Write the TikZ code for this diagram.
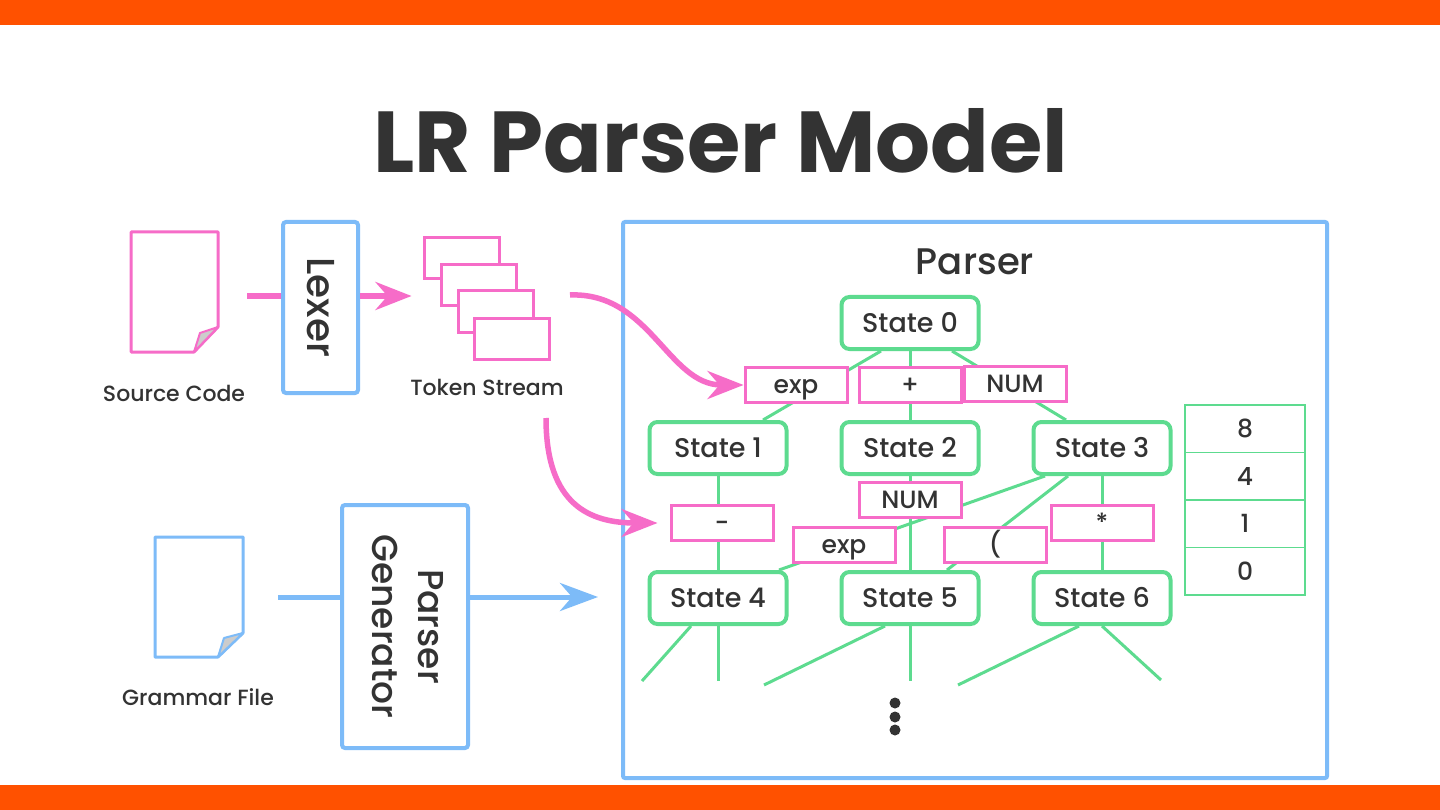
\documentclass[tikz,border=0pt]{standalone}
\usepackage{fontspec}
\setmainfont{Poppins}[UprightFont=* Medium,BoldFont=* Bold]
\usepackage{xcolor}
\usepackage{tikz}
\usetikzlibrary{arrows.meta,positioning,calc}

\definecolor{barorange}{HTML}{FF5100}
\definecolor{tokpink}{HTML}{F66CC8}
\definecolor{stategreen}{HTML}{5DDB8F}
\definecolor{toolblue}{HTML}{7DBBF8}
\definecolor{textgray}{HTML}{333333}

\begin{document}
\begin{tikzpicture}[
  x=1pt, y=-1pt,
  statebox/.style={draw=stategreen,line width=4pt,rounded corners=8pt,fill=white,
    minimum width=137pt,minimum height=52pt,text=textgray,font=\fontsize{27}{30}\selectfont},
  tokbox/.style={draw=tokpink,line width=3pt,fill=white,text height=17pt,text depth=0pt,
    minimum width=102pt,minimum height=35pt,text=textgray,font=\fontsize{25}{30}\selectfont},
  tokcard/.style={draw=tokpink,line width=3pt,fill=white,minimum width=75pt,minimum height=41pt},
  toolbox/.style={draw=toolblue,line width=4pt,rounded corners=3pt,fill=white,
    text=textgray,font=\fontsize{36}{46}\selectfont},
  cell/.style={draw=stategreen,line width=1.5pt,minimum width=120pt,minimum height=47.5pt,
    outer sep=0pt,text=textgray,font=\fontsize{25}{30}\selectfont},
  caption/.style={text=textgray,font=\fontsize{22}{26}\selectfont},
  edge/.style={draw=stategreen,line width=3pt},
  pinkarr/.style={draw=tokpink,line width=5.5pt,-{Stealth[length=36pt,width=28pt,inset=12pt]}},
  bluearr/.style={draw=toolblue,line width=5pt,-{Stealth[length=38pt,width=28pt,inset=12pt]}}
]
\useasboundingbox (0,0) rectangle (1440,810);
\fill[white] (0,0) rectangle (1440,810);
\fill[barorange] (0,0) rectangle (1440,25);
\fill[barorange] (0,785) rectangle (1440,810);

\node[text=textgray,font=\fontsize{86.5}{90}\selectfont\bfseries] (title) at (721,141) {LR Parser Model};

% source side
\draw[draw=tokpink,line width=3pt,line join=round] (131,232) -- (218,232) -- (218,327) -- (194,352) -- (131,352) -- cycle;
\draw[draw=tokpink,line width=2pt,fill=black!20,line join=round] (218,327) -- (200,333) -- (194,352) -- cycle;
\node[caption] (srclbl) at (174,393) {Source Code};

\node[toolbox,minimum width=75pt,minimum height=171pt,font=\fontsize{39}{46}\selectfont] (lexer) at (320.5,307.5) {\rotatebox{-90}{Lexer}};

\node[tokcard] (tok1) at (461.5,258.5) {};
\node[tokcard] (tok2) at (478.5,285) {};
\node[tokcard] (tok3) at (495.5,311.5) {};
\node[tokcard] (tok4) at (511.5,338.5) {};
\node[caption] (toklbl) at (487,387) {Token Stream};

\coordinate (srcout) at (247,296);
\draw[draw=tokpink,line width=5.5pt] (srcout) -- (srcout -| lexer.west);
\draw[pinkarr,shorten >=11pt] (srcout -| lexer.east) -- (srcout -| tok1.west);

% grammar side
\draw[draw=toolblue,line width=3pt,line join=round] (155,537) -- (243,537) -- (243,633) -- (218,657) -- (155,657) -- cycle;
\draw[draw=toolblue,line width=2pt,fill=black!20,line join=round] (243,633) -- (224,638) -- (218,657) -- cycle;
\node[caption] (gramlbl) at (198,697) {Grammar File};

\node[toolbox,minimum width=126pt,minimum height=243pt] (pgen) at (405,626.5)
  {\rotatebox{-90}{\begin{tabular}{@{}c@{}}Parser\\Generator\end{tabular}}};

% parser
\node[draw=toolblue,line width=4pt,rounded corners=2pt,minimum width=704pt,minimum height=556pt] (parser) at (975,500) {};
\node[text=textgray,font=\fontsize{37}{40}\selectfont] (parserlbl) at (975,262) {Parser};

\coordinate (gramout) at (278,597);
\draw[draw=toolblue,line width=5pt] (gramout) -- (gramout -| pgen.west);
\draw[bluearr,shorten >=23pt] (gramout -| pgen.east) -- (gramout -| parser.west);

\node[statebox] (s0) at (910,323) {State 0};
\node[statebox] (s1) at (718,448) {State 1};
\node[statebox] (s2) at (910,448) {State 2};
\node[statebox] (s3) at (1102,448) {State 3};
\node[statebox] (s4) at (718,598) {State 4};
\node[statebox] (s5) at (910,598) {State 5};
\node[statebox] (s6) at (1102,598) {State 6};

\coordinate (leaf1) at (642,681);
\coordinate (leaf2) at (718,681);
\coordinate (leaf3) at (764,685);
\coordinate (leaf4) at (910,681);
\coordinate (leaf5) at (958,685);
\coordinate (leaf6) at (1161,680);

\draw[edge] ($(s0.south)+(-29,0)$) -- ($(s1.north)+(45,0)$);
\draw[edge] (s0.south) -- (s2.north);
\draw[edge] ($(s0.south)+(42,0)$) -- ($(s3.north)+(-36,0)$);
\draw[edge] (s1.south) -- (s4.north);
\draw[edge] (s2.south) -- (s5.north);
\draw[edge] ($(s3.south)+(-57,0)$) -- ($(s4.north)+(61,0)$);
\draw[edge] ($(s3.south)+(-34,0)$) -- ($(s5.north)+(37,0)$);
\draw[edge] (s3.south) -- (s6.north);
\draw[edge] ($(s4.south)+(-27,0)$) -- (leaf1);
\draw[edge] (s4.south) -- (leaf2);
\draw[edge] ($(s5.south)+(-25,0)$) -- (leaf3);
\draw[edge] (s5.south) -- (leaf4);
\draw[edge] ($(s6.south)+(-23,0)$) -- (leaf5);
\draw[edge] (s6.south) -- (leaf6);

\node[tokbox] (lblexp) at (796,385) {exp};
\node[tokbox] (lblplus) at (910,385) {+};
\node[tokbox] (lblnum) at (1015,384) {NUM};
\node[tokbox] (lblminus) at (722,523) {-};
\node[tokbox] (lblnum2) at (910,500) {NUM};
\node[tokbox] (lblexp2) at (844,545) {exp};
\node[tokbox] (lblparen) at (995,545) {(};
\node[tokbox] (lblstar) at (1102,523) {*};

\coordinate (tokout) at (570,295);
\coordinate (tokdown) at (546,418);
\draw[pinkarr] (tokout) .. controls (650,292) and (668,385) .. (lblexp.west);
\draw[pinkarr,shorten >=12pt] (tokdown) .. controls (546,505) and (590,523) .. (lblminus.west);

% stack
\node[cell] (stk8) at (1245,428.75) {8};
\node[cell,below=0pt of stk8] (stk4) {4};
\node[cell,below=0pt of stk4] (stk1) {1};
\node[cell,below=0pt of stk1] (stk0) {0};

\fill[textgray] (895,703) circle (5.5);
\fill[textgray] (895,717) circle (5.5);
\fill[textgray] (895,730) circle (5.5);
\end{tikzpicture}
\end{document}
